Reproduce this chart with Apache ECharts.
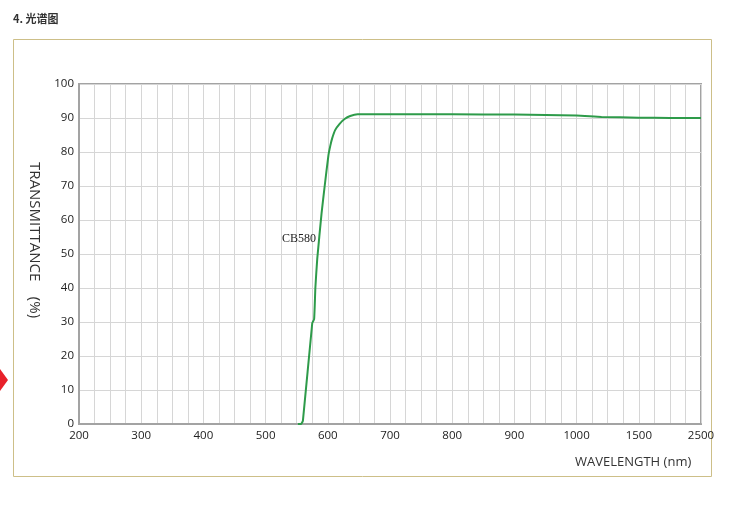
<!DOCTYPE html>
<html>
<head>
<meta charset="utf-8">
<script src="https://cdn.jsdelivr.net/npm/echarts@6/dist/echarts.min.js"></script>
<style>html,body{margin:0;padding:0;background:#fff;}#c{width:736px;height:522px;}</style>
</head>
<body>
<div id="c"></div>
<script>
// Tick labels of the (piecewise) wavelength axis
var xTickLabels = ['200','300','400','500','600','700','800','900','1000','1500','2500'];
// Wavelength (nm) of each tick, used to place data on the piecewise axis
var xTickValues = [200,300,400,500,600,700,800,900,1000,1500,2500];
var yTickLabels = ['0','10','20','30','40','50','60','70','80','90','100'];

// CB580 curve
var wavelength = [552,557,560,575,578,580,583,590,595,601,604,607,612,619,627,636,648,700,800,900,1000,1200,1500,2000,2500];
var transmittance = [0,0,1,29.7,30.8,40,48.5,62,70,79,81.8,84,86.5,88.3,89.7,90.6,91.1,91.1,91.1,91,90.7,90.3,90.1,90,90];

// piecewise scale: wavelength -> axis position (tick index)
function wlToPos(w){
  for (var i=0;i<xTickValues.length-1;i++){
    if (w<=xTickValues[i+1]){
      return i + (w-xTickValues[i])/(xTickValues[i+1]-xTickValues[i]);
    }
  }
  return xTickValues.length-1;
}
var seriesData = wavelength.map(function(w,i){return [wlToPos(w), transmittance[i]];});

var chart = echarts.init(document.getElementById('c'), null, {renderer:'canvas'});
chart.setOption({
  animation:false,
  backgroundColor:'#fff',
  grid:{left:79, top:84, right:35, bottom:98, show:true, borderColor:'#a3a3a3', borderWidth:2, backgroundColor:'#fff'},
  xAxis:{
    type:'value', min:0, max:10, interval:1,
    axisLine:{show:true, lineStyle:{color:'#a3a3a3', width:2}},
    axisTick:{show:false},
    axisLabel:{color:'#222', fontFamily:'Open Sans', fontSize:11.5, margin:6,
      formatter:function(v){return xTickLabels[Math.round(v)];}},
    splitLine:{show:true, lineStyle:{color:'#d6d6d6', width:1}},
    minorTick:{show:false, splitNumber:4},
    minorSplitLine:{show:true, lineStyle:{color:'#d6d6d6', width:1}}
  },
  yAxis:{
    type:'value', min:0, max:100, interval:10,
    axisLine:{show:true, lineStyle:{color:'#a3a3a3', width:2}},
    axisTick:{show:false},
    axisLabel:{color:'#222', fontFamily:'Open Sans', fontSize:11.5, margin:5,
      formatter:function(v){return yTickLabels[Math.round(v/10)];}},
    splitLine:{show:true, lineStyle:{color:'#d6d6d6', width:1}}
  },
  series:[{
    type:'line', data:seriesData, showSymbol:false, smooth:0.15,
    lineStyle:{color:'#2e9b4a', width:2}
  }],
  graphic:[
    {type:'rect', shape:{x:13.5, y:39.5, width:698, height:437}, style:{fill:null, stroke:'#cdbf88', lineWidth:1}, z:-10},
    {type:'text', left:13, top:13, style:{text:'4. 光谱图', font:'bold 11px "Noto Sans CJK SC"', fill:'#333'}},
    {type:'polygon', shape:{points:[[0,369],[8,380],[0,391]]}, style:{fill:'#e8212a'}},
    {type:'text', x:282, y:233, style:{text:'CB580', font:'12px "Liberation Serif"', fill:'#222'}, z:10},
    {type:'text', x:34, y:240, rotation:-Math.PI/2, style:{text:'TRANSMITTANCE    (%)', font:'15px "Open Sans"', fill:'#333', align:'center', verticalAlign:'middle'}},
    {type:'text', x:575, y:456, style:{text:'WAVELENGTH (nm)', font:'13px "Open Sans"', fill:'#333'}}
  ]
});
</script>
</body>
</html>
